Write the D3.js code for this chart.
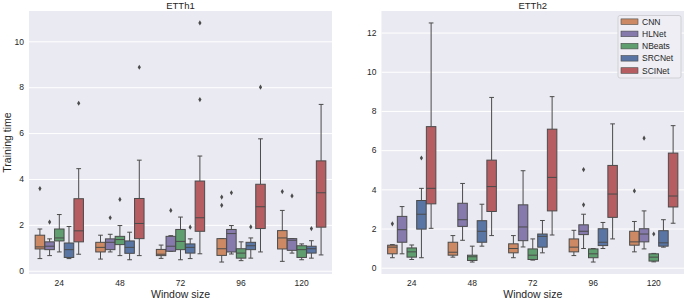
<!DOCTYPE html>
<html>
<head>
<meta charset="utf-8">
<script src="https://cdn.jsdelivr.net/npm/d3@7"></script>
<style>
  body { margin: 0; background: #fff; }
  text { font-family: "Liberation Sans", Arial, sans-serif; fill: #262626; }
</style>
</head>
<body>
<div id="chart"></div>
<script>
var windows = ["24", "48", "72", "96", "120"];
var models = ["CNN", "HLNet", "NBeats", "SRCNet", "SCINet"];
var colors = ["#cc8963", "#857aab", "#5f9e6e", "#5875a4", "#b55d60"];

// box stats per window: [low whisker, q1, median, q3, high whisker]
var etth1CNN    = [[0.53,0.95,1.04,1.55,1.82],[0.51,0.82,1.02,1.24,1.55],[0.54,0.66,0.72,0.93,1.12],[0.38,0.67,0.96,1.40,1.40],[0.41,0.95,1.43,1.75,2.63]];
var etth1HLNet  = [[0.66,0.92,1.07,1.26,1.39],[0.82,0.92,1.24,1.39,1.59],[0.85,0.85,1.07,1.50,1.53],[0.73,0.82,1.62,1.80,1.97],[0.77,0.89,1.33,1.40,1.40]];
var etth1NBeats = [[0.82,1.30,1.43,1.82,2.45],[0.66,1.14,1.36,1.50,1.97],[0.48,0.92,1.28,1.80,2.34],[0.44,0.55,0.77,0.96,1.26],[0.48,0.58,0.92,1.09,1.17]];
var etth1SRCNet = [[0.53,0.58,0.92,1.21,1.93],[0.48,0.76,1.02,1.30,1.68],[0.53,0.77,1.02,1.17,1.39],[0.55,0.92,1.09,1.24,1.43],[0.55,0.77,0.96,1.07,1.31]];
var etth1SCINet = [[0.72,1.26,1.74,3.14,4.45],[0.66,1.40,2.06,3.15,4.82],[0.74,1.72,2.31,3.91,5.00],[0.82,1.84,2.79,3.77,5.75],[0.69,1.90,3.40,4.79,7.25]];
// outliers: [window, model, value]
var etth1Out = [["24","CNN",3.58],["24","HLNet",2.12],["24","SCINet",7.30],
  ["48","HLNet",2.31],["48","NBeats",3.11],["48","SCINet",8.87],
  ["72","HLNet",2.63],["72","SRCNet",1.90],["72","SCINet",7.46],["72","SCINet",10.80],
  ["96","CNN",2.85],["96","CNN",3.21],["96","HLNet",3.40],["96","SRCNet",1.91],["96","SCINet",8.00],
  ["120","CNN",3.45],["120","HLNet",3.26],["120","SRCNet",1.84]];

var etth2CNN    = [[0.51,0.71,1.05,1.15,1.18],[0.54,0.64,0.79,1.30,1.64],[0.51,0.76,0.98,1.22,1.64],[0.62,0.81,1.05,1.47,1.91],[0.81,1.15,1.32,1.86,2.36]];
var etth2HLNet  = [[0.71,1.30,1.94,2.62,3.12],[1.40,2.11,2.45,3.29,4.30],[1.06,1.38,2.08,3.21,4.95],[0.98,1.69,1.86,2.19,2.73],[0.96,1.32,1.72,1.99,2.90]];
var etth2NBeats = [[0.42,0.54,0.81,1.01,1.16],[0.29,0.37,0.56,0.64,1.10],[0.39,0.42,0.64,0.96,1.47],[0.29,0.51,0.71,0.96,0.98],[0.30,0.34,0.54,0.71,0.73]];
var etth2SRCNet = [[0.51,1.97,2.73,3.43,4.05],[1.10,1.30,1.86,2.40,3.24],[0.76,1.05,1.60,1.72,2.41],[0.98,1.13,1.30,1.99,2.31],[1.05,1.10,1.27,1.89,2.45]];
var etth2SCINet = [[2.01,3.26,4.05,7.20,12.49],[1.64,2.87,4.14,5.49,8.69],[1.67,2.90,4.61,7.07,8.73],[1.47,2.57,3.76,5.22,7.34],[2.27,3.10,3.66,5.85,7.25]];
var etth2Out = [["24","CNN",2.24],["24","SRCNet",5.60],
  ["96","HLNet",3.21],["96","HLNet",5.01],
  ["120","CNN",3.92],["120","HLNet",6.61],["120","NBeats",1.72]];

var yTicks1 = [0, 2, 4, 6, 8, 10];
var yTicks2 = [0, 2, 4, 6, 8, 10, 12];

var width = 685, height = 300;
var svg = d3.select("#chart").append("svg")
  .attr("width", width).attr("height", height);

var edge = "#4b4b4b";

function panel(title, series, outliers, ticks, x0, x1, showYLabel, showLegend) {
  var top = 11, bottom = 274;
  var all = [];
  series.forEach(function(s) { s.forEach(function(b) { all.push(b[0], b[4]); }); });
  outliers.forEach(function(o) { all.push(o[2]); });
  var ext = d3.extent(all), pad = (ext[1] - ext[0]) * 0.05;

  var y = d3.scaleLinear().domain([ext[0] - pad, ext[1] + pad]).range([bottom, top]);
  var x = d3.scaleBand().domain(windows).range([x0, x1]).padding(0);
  var hue = d3.scaleBand().domain(models).range([x.bandwidth() * 0.1, x.bandwidth() * 0.9]);
  var bw = hue.bandwidth() * 0.98;

  var g = svg.append("g");
  g.append("rect").attr("x", x0).attr("y", top).attr("width", x1 - x0).attr("height", bottom - top)
    .attr("fill", "#eaeaf2");

  var yAxis = g.append("g").attr("transform", "translate(" + x0 + ",0)")
    .call(d3.axisLeft(y).tickValues(ticks).tickSize(-(x1 - x0)).tickPadding(5));
  yAxis.select(".domain").remove();
  yAxis.selectAll(".tick line").attr("stroke", "#fff").attr("stroke-width", 1);
  yAxis.selectAll(".tick text").attr("font-size", 8.5).style("fill", "#262626");

  var xAxis = g.append("g").attr("transform", "translate(0," + bottom + ")")
    .call(d3.axisBottom(x).tickSize(0).tickPadding(6));
  xAxis.select(".domain").remove();
  xAxis.selectAll(".tick text").attr("font-size", 8.5).style("fill", "#262626");

  g.append("text").attr("x", (x0 + x1) / 2).attr("y", 8.5).attr("text-anchor", "middle")
    .attr("font-size", 9.5).text(title);
  g.append("text").attr("x", (x0 + x1) / 2).attr("y", 297.5).attr("text-anchor", "middle")
    .attr("font-size", 10.5).text("Window size");
  if (showYLabel) {
    g.append("text").attr("transform", "rotate(-90)").attr("x", -(top + bottom) / 2).attr("y", 11)
      .attr("text-anchor", "middle").attr("font-size", 10.5).text("Training time");
  }

  var boxes = [];
  series.forEach(function(s, mi) {
    s.forEach(function(b, wi) {
      boxes.push({w: windows[wi], m: models[mi], c: colors[mi], s: b});
    });
  });

  var bg = g.selectAll(".box").data(boxes).enter().append("g")
    .attr("transform", function(d) { return "translate(" + (x(d.w) + hue(d.m) + hue.bandwidth() / 2) + ",0)"; });

  bg.append("line").attr("x1", 0).attr("x2", 0)
    .attr("y1", function(d) { return y(d.s[0]); }).attr("y2", function(d) { return y(d.s[1]); })
    .attr("stroke", edge);
  bg.append("line").attr("x1", 0).attr("x2", 0)
    .attr("y1", function(d) { return y(d.s[3]); }).attr("y2", function(d) { return y(d.s[4]); })
    .attr("stroke", edge);
  [0, 4].forEach(function(k) {
    bg.append("line").attr("x1", -bw / 4).attr("x2", bw / 4)
      .attr("y1", function(d) { return y(d.s[k]); }).attr("y2", function(d) { return y(d.s[k]); })
      .attr("stroke", edge);
  });
  bg.append("rect").attr("x", -bw / 2).attr("width", bw)
    .attr("y", function(d) { return y(d.s[3]); })
    .attr("height", function(d) { return y(d.s[1]) - y(d.s[3]); })
    .attr("fill", function(d) { return d.c; }).attr("stroke", edge);
  bg.append("line").attr("x1", -bw / 2).attr("x2", bw / 2)
    .attr("y1", function(d) { return y(d.s[2]); }).attr("y2", function(d) { return y(d.s[2]); })
    .attr("stroke", edge);

  g.selectAll(".flier").data(outliers).enter().append("path")
    .attr("d", "M0,-2.6L1.6,0L0,2.6L-1.6,0Z")
    .attr("transform", function(d) {
      return "translate(" + (x(d[0]) + hue(d[1]) + hue.bandwidth() / 2) + "," + y(d[2]) + ")";
    })
    .attr("fill", edge);

  if (showLegend) {
    var lg = g.append("g").attr("transform", "translate(618,15.5)");
    lg.append("rect").attr("width", 63).attr("height", 62.5).attr("rx", 2)
      .attr("fill", "#eeeef4").attr("stroke", "#d0d0d6");
    var items = lg.selectAll(".item").data(models).enter().append("g")
      .attr("transform", function(d, i) { return "translate(3," + (6.2 + i * 12.2) + ")"; });
    items.append("rect").attr("y", -2.8).attr("width", 17).attr("height", 5.6)
      .attr("fill", function(d, i) { return colors[i]; }).attr("stroke", edge).attr("stroke-width", 0.6);
    items.append("text").attr("x", 21).attr("y", 3).attr("font-size", 8.5).text(function(d) { return d; });
  }
}

panel("ETTh1", [etth1CNN, etth1HLNet, etth1NBeats, etth1SRCNet, etth1SCINet], etth1Out, yTicks1, 29, 332, true, false);
panel("ETTh2", [etth2CNN, etth2HLNet, etth2NBeats, etth2SRCNet, etth2SCINet], etth2Out, yTicks2, 381.5, 684, false, true);
</script>
</body>
</html>
